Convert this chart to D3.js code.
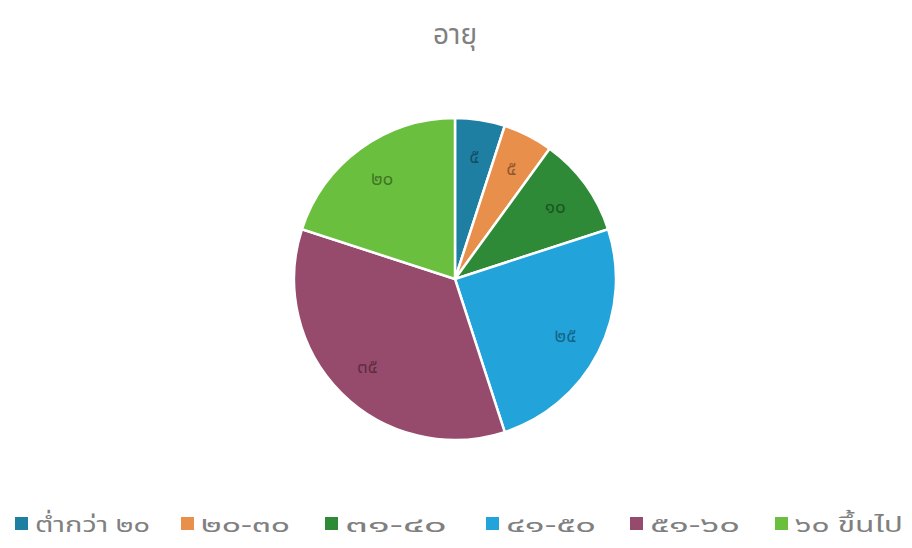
<!DOCTYPE html>
<html><head><meta charset="utf-8">
<script src="https://cdn.jsdelivr.net/npm/d3@7"></script>
<style>body{margin:0;background:#fff}svg{display:block}text{font-family:"Noto Sans","Noto Sans Thai",Tahoma,sans-serif}</style>
</head><body><svg id="c" width="912" height="548"></svg>
<script>
const title = "อายุ";
const categories = ["ต่ำกว่า ๒๐","๒๐-๓๐","๓๑-๔๐","๔๑-๕๐","๕๑-๖๐","๖๐ ขึ้นไป"];
const values = [5,5,10,25,35,20];
const valueLabels = ["๕","๕","๑๐","๒๕","๓๕","๒๐"];
const colors = ["#1f7fa2","#e88f4c","#2e8a36","#22a3da","#974b6c","#6bbf3e"];

const svg = d3.select("#c");
const cx = 455, cy = 279, r = 161;
svg.append("text").attr("x",455).attr("y",44).attr("text-anchor","middle")
  .attr("font-size",28).attr("fill","#808080").text(title);

const pie = d3.pie().sort(null).value(d=>d)(values);
const arc = d3.arc().innerRadius(0).outerRadius(r);
const lab = d3.arc().innerRadius(r*0.77).outerRadius(r*0.77);
const g = svg.append("g").attr("transform",`translate(${cx},${cy})`);
g.selectAll("path").data(pie).join("path").attr("d",arc)
  .attr("fill",(d,i)=>colors[i]).attr("stroke","#fff").attr("stroke-width",2.5);
g.selectAll("text").data(pie).join("text")
  .attr("transform",d=>`translate(${lab.centroid(d)})`)
  .attr("text-anchor","middle").attr("dy","0.35em")
  .attr("font-size",19).attr("fill","#000").attr("fill-opacity",0.4)
  .text((d,i)=>valueLabels[i]);

const lx = [15,181,325,486,630,775];
const lw = [115,89,102,90,90,108];
const lg = svg.append("g");
categories.forEach((c,i)=>{
  lg.append("rect").attr("x",lx[i]).attr("y",517).attr("width",13).attr("height",13).attr("fill",colors[i]);
  lg.append("text").attr("x",lx[i]+20).attr("y",532).attr("font-size",22).attr("fill","#808080")
    .attr("textLength",lw[i]).attr("lengthAdjust","spacingAndGlyphs").text(c);
});
</script></body></html>
